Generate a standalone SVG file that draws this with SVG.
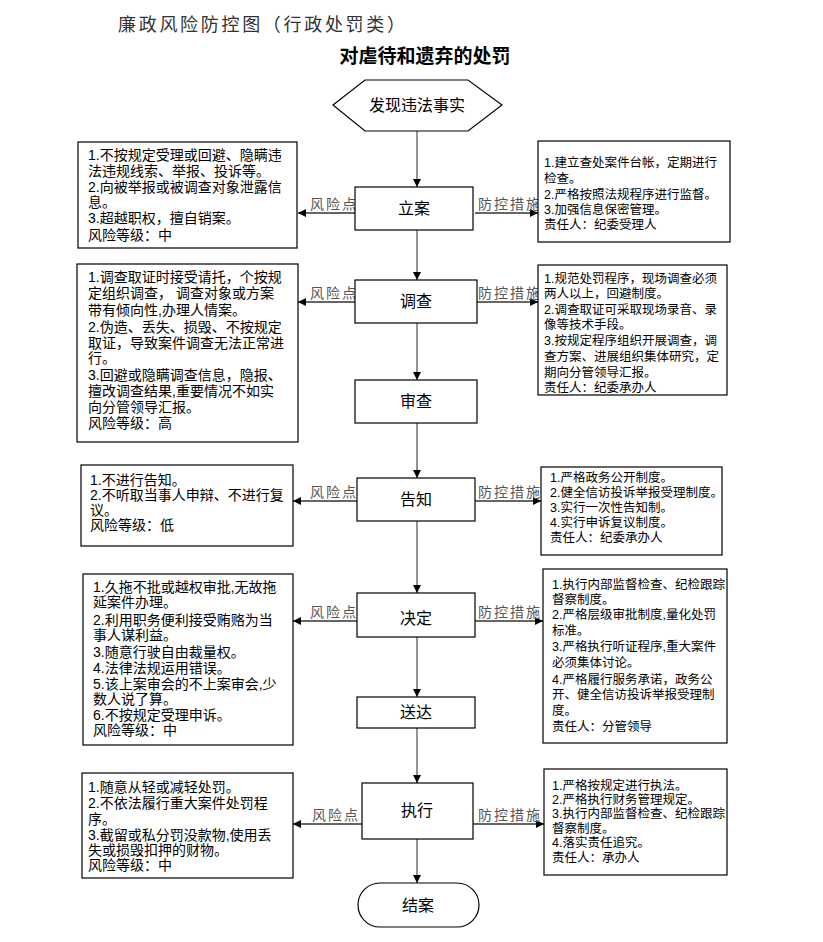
<svg xmlns="http://www.w3.org/2000/svg" width="823" height="942" viewBox="0 0 823 942">
<defs>
<style>
.bg{fill:#fff}
.box{fill:#fff;stroke:#000;stroke-width:1.2}
.t{font-family:"Liberation Sans","Noto Sans CJK SC",sans-serif;fill:#000;dominant-baseline:central}
.lt{font-size:14px}
.rt{font-size:12.5px}
.nt{font-size:16px;text-anchor:middle}
.lab{font-family:"Liberation Sans","Noto Sans CJK SC",sans-serif;font-size:14px;fill:#555;letter-spacing:2px}
.v{stroke:#666;stroke-width:1.4;fill:none}
.h{stroke:#333;stroke-width:1.4;fill:none}
</style>
<marker id="ah" viewBox="0 0 10 10" refX="10" refY="5" markerWidth="8" markerHeight="8" markerUnits="userSpaceOnUse" orient="auto">
<path d="M0,0 L10,5 L0,10 z" fill="#000"/>
</marker>
</defs>
<rect class="bg" x="0" y="0" width="823" height="942"/>
<text x="118" y="25" font-family="Liberation Sans,Noto Sans CJK SC,sans-serif" font-size="18" fill="#333" dominant-baseline="central" textLength="287" lengthAdjust="spacing">廉政风险防控图（行政处罚类）</text>
<text x="425" y="56" font-family="Liberation Sans,Noto Sans CJK SC,sans-serif" font-size="19" font-weight="bold" fill="#000" dominant-baseline="central" text-anchor="middle">对虐待和遗弃的处罚</text>

<g id="connectors">
<line class="v" x1="417" y1="131" x2="417" y2="187" marker-end="url(#ah)"/>
<line class="v" x1="417" y1="230" x2="417" y2="280" marker-end="url(#ah)"/>
<line class="v" x1="417" y1="323" x2="417" y2="380" marker-end="url(#ah)"/>
<line class="v" x1="417" y1="423" x2="417" y2="478" marker-end="url(#ah)"/>
<line class="v" x1="417" y1="521" x2="417" y2="593" marker-end="url(#ah)"/>
<line class="v" x1="417" y1="637" x2="417" y2="697" marker-end="url(#ah)"/>
<line class="v" x1="417" y1="728" x2="417" y2="783" marker-end="url(#ah)"/>
<line class="v" x1="417" y1="839" x2="417" y2="883" marker-end="url(#ah)"/>

<line class="h" x1="355" y1="213" x2="298" y2="213" marker-end="url(#ah)"/>
<line class="h" x1="475" y1="213" x2="538" y2="213" marker-end="url(#ah)"/>
<line class="h" x1="355" y1="302" x2="298" y2="302" marker-end="url(#ah)"/>
<line class="h" x1="477" y1="302" x2="538" y2="302" marker-end="url(#ah)"/>
<line class="h" x1="357" y1="501" x2="293" y2="501" marker-end="url(#ah)"/>
<line class="h" x1="475" y1="501" x2="541" y2="501" marker-end="url(#ah)"/>
<line class="h" x1="357" y1="621" x2="293" y2="621" marker-end="url(#ah)"/>
<line class="h" x1="475" y1="621" x2="543" y2="621" marker-end="url(#ah)"/>
<line class="h" x1="362" y1="824" x2="293" y2="824" marker-end="url(#ah)"/>
<line class="h" x1="473" y1="824" x2="544" y2="824" marker-end="url(#ah)"/>

<text class="lab" x="310" y="209">风险点</text>
<text class="lab" x="478" y="209">防控措施</text>
<text class="lab" x="310" y="298">风险点</text>
<text class="lab" x="478" y="298">防控措施</text>
<text class="lab" x="310" y="497">风险点</text>
<text class="lab" x="478" y="497">防控措施</text>
<text class="lab" x="310" y="617">风险点</text>
<text class="lab" x="478" y="617">防控措施</text>
<text class="lab" x="312" y="820">风险点</text>
<text class="lab" x="478" y="820">防控措施</text>
</g>

<g id="start">
<polygon class="box" points="333,105 365,80 468,80 502,105 468,131 365,131"/>
<text class="t nt" x="417" y="105" font-size="15">发现违法事实</text>
</g>
<g id="lian">
<rect class="box" x="355" y="187" width="118" height="43"/>
<text class="t nt" x="414" y="208">立案</text>
</g>
<g id="diaocha">
<rect class="box" x="355" y="280" width="122" height="43"/>
<text class="t nt" x="416" y="301">调查</text>
</g>
<g id="shencha">
<rect class="box" x="355" y="380" width="122" height="43"/>
<text class="t nt" x="416" y="401">审查</text>
</g>
<g id="gaozhi">
<rect class="box" x="357" y="478" width="118" height="43"/>
<text class="t nt" x="416" y="499">告知</text>
</g>
<g id="jueding">
<rect class="box" x="357" y="593" width="118" height="44"/>
<text class="t nt" x="416" y="618">决定</text>
</g>
<g id="songda">
<rect class="box" x="357" y="697" width="118" height="31"/>
<text class="t nt" x="416" y="712">送达</text>
</g>
<g id="zhixing">
<rect class="box" x="362" y="783" width="111" height="56"/>
<text class="t nt" x="417" y="810">执行</text>
</g>
<g id="jiean">
<rect class="box" x="358" y="883" width="121" height="44" rx="22" ry="22"/>
<text class="t nt" x="418" y="905">结案</text>
</g>

<g id="risk-lian">
<rect class="box" x="78" y="142" width="219" height="106"/>
<text class="t lt"><tspan x="88" y="155">1.不按规定受理或回避、隐瞒违</tspan><tspan x="88" y="171">法违规线索、举报、投诉等。</tspan><tspan x="88" y="187">2.向被举报或被调查对象泄露信</tspan><tspan x="88" y="202">息。</tspan><tspan x="88" y="218">3.超越职权，擅自销案。</tspan><tspan x="88" y="235">风险等级：中</tspan></text>
</g>
<g id="ctrl-lian">
<rect class="box" x="538" y="141" width="192" height="101"/>
<text class="t rt"><tspan x="544" y="163">1.建立查处案件台帐，定期进行</tspan><tspan x="544" y="179">检查。</tspan><tspan x="544" y="195">2.严格按照法规程序进行监督。</tspan><tspan x="544" y="210">3.加强信息保密管理。</tspan><tspan x="544" y="225">责任人：纪委受理人</tspan></text>
</g>

<g id="risk-diaocha">
<rect class="box" x="77" y="264" width="221" height="178"/>
<text class="t lt"><tspan x="88" y="277">1.调查取证时接受请托，个按规</tspan><tspan x="88" y="293">定组织调查， 调查对象或方案</tspan><tspan x="88" y="310">带有倾向性,办理人情案。</tspan><tspan x="88" y="327">2.伪造、丢失、损毁、不按规定</tspan><tspan x="88" y="343">取证，导致案件调查无法正常进</tspan><tspan x="88" y="358">行。</tspan><tspan x="88" y="375">3.回避或隐瞒调查信息，隐报、</tspan><tspan x="88" y="391">擅改调查结果,重要情况不如实</tspan><tspan x="88" y="407">向分管领导汇报。</tspan><tspan x="88" y="423">风险等级：高</tspan></text>
</g>
<g id="ctrl-diaocha">
<rect class="box" x="538" y="265" width="189" height="130"/>
<text class="t rt"><tspan x="544" y="279">1.规范处罚程序，现场调查必须</tspan><tspan x="544" y="294">两人以上，回避制度。</tspan><tspan x="544" y="310">2.调查取证可采取现场录音、录</tspan><tspan x="544" y="325">像等技术手段。</tspan><tspan x="544" y="341">3.按规定程序组织开展调查，调</tspan><tspan x="544" y="357">查方案、进展组织集体研究，定</tspan><tspan x="544" y="373">期向分管领导汇报。</tspan><tspan x="544" y="388">责任人：纪委承办人</tspan></text>
</g>

<g id="risk-gaozhi">
<rect class="box" x="81" y="465" width="212" height="81"/>
<text class="t lt"><tspan x="90" y="480">1.不进行告知。</tspan><tspan x="90" y="495">2.不听取当事人申辩、不进行复</tspan><tspan x="90" y="510">议。</tspan><tspan x="90" y="525">风险等级：低</tspan></text>
</g>
<g id="ctrl-gaozhi">
<rect class="box" x="541" y="467" width="181" height="88"/>
<text class="t rt"><tspan x="550" y="478">1.严格政务公开制度。</tspan><tspan x="550" y="493">2.健全信访投诉举报受理制度。</tspan><tspan x="550" y="508">3.实行一次性告知制。</tspan><tspan x="550" y="523">4.实行申诉复议制度。</tspan><tspan x="550" y="538">责任人：纪委承办人</tspan></text>
</g>

<g id="risk-jueding">
<rect class="box" x="83" y="574" width="210" height="171"/>
<text class="t lt"><tspan x="93" y="587">1.久拖不批或越权审批,无故拖</tspan><tspan x="93" y="602">延案件办理。</tspan><tspan x="93" y="620">2.利用职务便利接受贿赂为当</tspan><tspan x="93" y="635">事人谋利益。</tspan><tspan x="93" y="652">3.随意行驶自由裁量权。</tspan><tspan x="93" y="668">4.法律法规运用错误。</tspan><tspan x="93" y="684">5.该上案审会的不上案审会,少</tspan><tspan x="93" y="699">数人说了算。</tspan><tspan x="93" y="715">6.不按规定受理申诉。</tspan><tspan x="93" y="730">风险等级：中</tspan></text>
</g>
<g id="ctrl-jueding">
<rect class="box" x="543" y="569" width="184" height="174"/>
<text class="t rt"><tspan x="552" y="585">1.执行内部监督检查、纪检跟踪</tspan><tspan x="552" y="600">督察制度。</tspan><tspan x="552" y="615">2.严格层级审批制度,量化处罚</tspan><tspan x="552" y="631">标准。</tspan><tspan x="552" y="647">3.严格执行听证程序,重大案件</tspan><tspan x="552" y="663">必须集体讨论。</tspan><tspan x="552" y="680">4.严格履行服务承诺，政务公</tspan><tspan x="552" y="695">开、健全信访投诉举报受理制</tspan><tspan x="552" y="711">度。</tspan><tspan x="552" y="727">责任人：分管领导</tspan></text>
</g>

<g id="risk-zhixing">
<rect class="box" x="82" y="773" width="211" height="105"/>
<text class="t lt"><tspan x="88" y="787">1.随意从轻或减轻处罚。</tspan><tspan x="88" y="803">2.不依法履行重大案件处罚程</tspan><tspan x="88" y="819">序。</tspan><tspan x="88" y="835">3.截留或私分罚没款物,使用丢</tspan><tspan x="88" y="850">失或损毁扣押的财物。</tspan><tspan x="88" y="865">风险等级：中</tspan></text>
</g>
<g id="ctrl-zhixing">
<rect class="box" x="544" y="769" width="183" height="106"/>
<text class="t rt"><tspan x="552" y="786">1.严格按规定进行执法。</tspan><tspan x="552" y="800">2.严格执行财务管理规定。</tspan><tspan x="552" y="814">3.执行内部监督检查、纪检跟踪</tspan><tspan x="552" y="829">督察制度。</tspan><tspan x="552" y="843">4.落实责任追究。</tspan><tspan x="552" y="858">责任人：承办人</tspan></text>
</g>
</svg>
